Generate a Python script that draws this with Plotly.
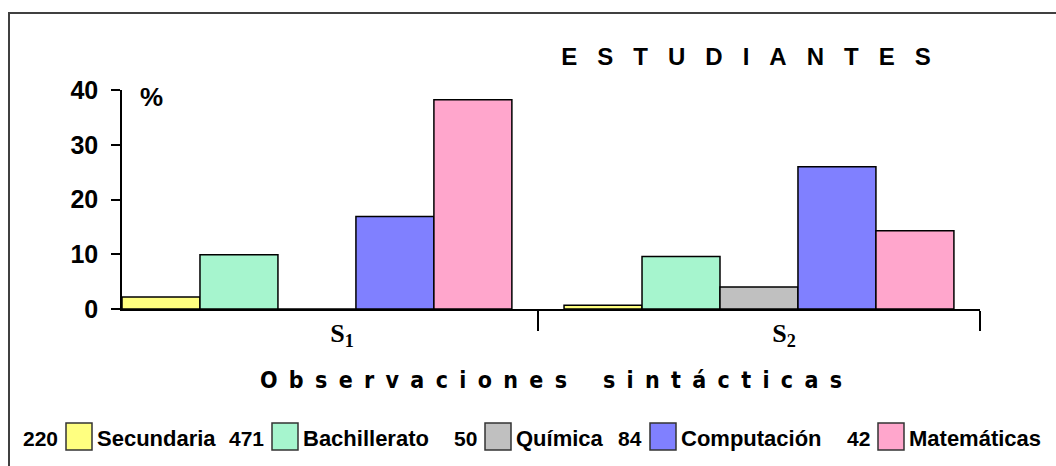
import plotly.graph_objects as go

# ---------------- data ----------------
categories = ["S1", "S2"]
category_labels = ["S<sub>1</sub>", "S<sub>2</sub>"]
series_names = ["Secundaria", "Bachillerato", "Química", "Computación", "Matemáticas"]
student_counts = [220, 471, 50, 84, 42]
secundaria = [2.2, 0.7]
bachillerato = [9.9, 9.6]
quimica = [0.0, 4.0]
computacion = [16.9, 26.0]
matematicas = [38.2, 14.3]
y_ticks = [0, 10, 20, 30, 40]

series_values = [secundaria, bachillerato, quimica, computacion, matematicas]
colors = ["#FFFF80", "#A6F5CE", "#C0C0C0", "#8080FF", "#FFA6CC"]

# ---------------- layout geometry ----------------
W, H = 1056, 466
ML, MR, MT, MB = 122, 76, 90, 157
PW, PH = W - ML - MR, H - MT - MB


def px_x(px):
    return (px - ML) / PW


def px_y(py):
    return (H - MB - py) / PH


fig = go.Figure()
for name, vals, col in zip(series_names, series_values, colors):
    fig.add_trace(go.Bar(
        x=categories, y=vals, name=name,
        marker=dict(color=col, line=dict(color="#000000", width=1.5)),
        showlegend=False,
    ))

bold = dict(family="Arial, Liberation Sans, sans-serif", color="#000000", weight="bold")

# custom legend (count, swatch, name)
swatch_left_px = [66, 272, 485, 650, 878]
shapes = []
annotations = []
for cnt, name, col, sx in zip(student_counts, series_names, colors, swatch_left_px):
    shapes.append(dict(type="rect", xref="paper", yref="paper",
                       x0=px_x(sx), x1=px_x(sx + 26), y0=px_y(450), y1=px_y(423),
                       fillcolor=col, line=dict(color="#333333", width=1.5)))
    annotations.append(dict(text=str(cnt), xref="paper", yref="paper",
                            x=px_x(sx - 6), y=px_y(438), xanchor="right", yanchor="middle",
                            showarrow=False, font=dict(bold, size=21)))
    annotations.append(dict(text=name, xref="paper", yref="paper",
                            x=px_x(sx + 29), y=px_y(438), xanchor="left", yanchor="middle",
                            showarrow=False, font=dict(bold, size=22)))

# outer frame
shapes.append(dict(type="rect", xref="paper", yref="paper",
                   x0=px_x(9), x1=px_x(1200), y0=px_y(700), y1=px_y(13),
                   line=dict(color="#404040", width=2), fillcolor="rgba(0,0,0,0)"))

# "%" unit label
annotations.append(dict(text="%", xref="paper", yref="paper", x=px_x(151), y=px_y(97),
                        xanchor="center", yanchor="middle", showarrow=False,
                        font=dict(bold, size=26)))

sp3 = "\u00a0" * 3
gap = "\u00a0\u2009"
title_text = sp3.join("ESTUDIANTES")
xtitle_text = gap.join("Observaciones") + "\u00a0" * 5 + gap.join("sintácticas")

fig.update_layout(
    width=W, height=H,
    margin=dict(l=ML, r=MR, t=MT, b=MB, pad=0),
    paper_bgcolor="#FFFFFF", plot_bgcolor="#FFFFFF",
    barmode="group", bargap=0.118, bargroupgap=0,
    title=dict(text=title_text, xref="paper", x=px_x(746), xanchor="center",
               yref="container", y=1 - 57 / H, yanchor="middle",
               font=dict(bold, size=24)),
    xaxis=dict(
        type="category", range=[-0.441, 1.5],
        tickmode="array", tickvals=categories, ticktext=category_labels,
        tickson="boundaries", ticks="outside", ticklen=20, tickwidth=1.5, tickcolor="#000000",
        ticklabelshift=25, ticklabelstandoff=0,
        showline=True, linecolor="#000000", linewidth=1.5,
        showgrid=False, zeroline=False,
        tickfont=dict(family="Liberation Serif, Times New Roman, serif", size=26,
                      color="#000000", weight="bold"),
        title=dict(text=xtitle_text, standoff=21,
                   font=dict(family="DejaVu Sans Condensed, Liberation Sans Narrow, Arial Narrow, sans-serif",
                             size=23, color="#000000", weight="bold")),
    ),
    yaxis=dict(
        range=[0, 40], tickmode="array", tickvals=y_ticks,
        ticks="outside", ticklen=9, tickwidth=1.5, tickcolor="#000000",
        ticklabelstandoff=8,
        showline=True, linecolor="#000000", linewidth=1.5,
        showgrid=False, zeroline=False,
        tickfont=dict(bold, size=25),
    ),
    shapes=shapes,
    annotations=annotations,
)

fig.write_html("out.html")
